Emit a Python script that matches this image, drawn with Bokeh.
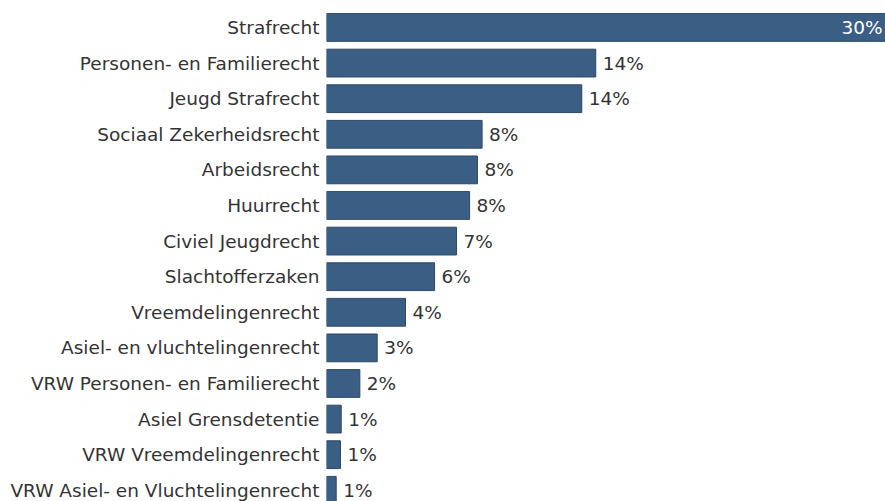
from bokeh.plotting import figure
from bokeh.models import Range1d, FixedTicker, ColumnDataSource
from bokeh.core.properties import value
from bokeh.embed import file_html
from bokeh.resources import INLINE

categories = [
    "Strafrecht",
    "Personen- en Familierecht",
    "Jeugd Strafrecht",
    "Sociaal Zekerheidsrecht",
    "Arbeidsrecht",
    "Huurrecht",
    "Civiel Jeugdrecht",
    "Slachtofferzaken",
    "Vreemdelingenrecht",
    "Asiel- en vluchtelingenrecht",
    "VRW Personen- en Familierecht",
    "Asiel Grensdetentie",
    "VRW Vreemdelingenrecht",
    "VRW Asiel- en Vluchtelingenrecht",
]
shares = [30.0, 14.45, 13.7, 8.35, 8.1, 7.68, 6.98, 5.8, 4.24, 2.72, 1.79, 0.79, 0.75, 0.52]

FONT = "DejaVu Sans"
TEXT = "#333333"
BAR = "#3b5e85"

ys = list(range(len(categories)))
labels = [f"{int(v + 0.5)}%" for v in shares]
src = ColumnDataSource(dict(y=ys, v=shares, lab=labels))

inside = [i for i, v in enumerate(shares) if v > 20]
outside = [i for i, v in enumerate(shares) if v <= 20]
src_in = ColumnDataSource(dict(y=[ys[i] for i in inside], v=[shares[i] for i in inside], lab=[labels[i] for i in inside]))
src_out = ColumnDataSource(dict(y=[ys[i] for i in outside], v=[shares[i] for i in outside], lab=[labels[i] for i in outside]))

p = figure(width=885, height=501, output_backend="svg", toolbar_location=None,
           x_range=Range1d(0, 30.0), y_range=Range1d(13.315, -0.758),
           x_axis_location=None,
           min_border_left=326, min_border_right=0, min_border_top=0, min_border_bottom=0)
p.outline_line_color = None
p.xgrid.visible = False
p.ygrid.visible = False
p.background_fill_color = "white"
p.border_fill_color = "white"

ax = p.yaxis[0]
ax.ticker = FixedTicker(ticks=ys)
ax.major_label_overrides = {i: c for i, c in zip(ys, categories)}
ax.major_tick_out = 0
ax.major_tick_in = 0
ax.minor_tick_out = 0
ax.minor_tick_in = 0
ax.axis_line_color = None
ax.major_label_standoff = 7
ax.major_label_text_font = FONT
ax.major_label_text_font_size = "18.5px"
ax.major_label_text_color = TEXT

p.hbar(y="y", left=0, right="v", height=0.78, source=src,
       fill_color=BAR, line_color="#2c4866", line_width=1)

p.text(x="v", y="y", text="lab", source=src_in, x_offset=-3,
       text_align="right", text_baseline="middle",
       text_font=value(FONT), text_font_size="18.5px", text_color="white")
p.text(x="v", y="y", text="lab", source=src_out, x_offset=7,
       text_align="left", text_baseline="middle",
       text_font=value(FONT), text_font_size="18.5px", text_color=TEXT)

open("out.html", "w").write(file_html(p, INLINE))
